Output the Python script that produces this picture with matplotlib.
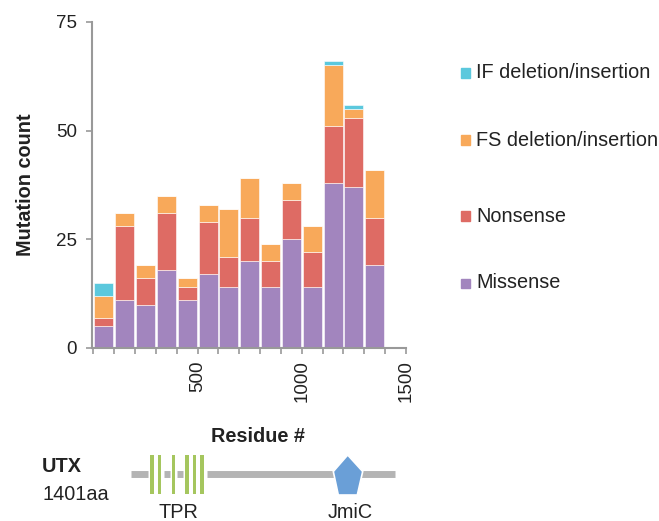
import matplotlib
matplotlib.use("Agg")
import matplotlib.pyplot as plt
from matplotlib.patches import Rectangle, Polygon
import numpy as np

plt.rcParams['font.family'] = ['Liberation Sans', 'DejaVu Sans']

bin_starts = [0, 100, 200, 300, 400, 500, 600, 700, 800, 900, 1000, 1100, 1200, 1300]
missense = [5, 11, 10, 18, 11, 17, 14, 20, 14, 25, 14, 38, 37, 19]
nonsense = [2, 17, 6, 13, 3, 12, 7, 10, 6, 9, 8, 13, 16, 11]
fs_indel = [5, 3, 3, 4, 2, 4, 11, 9, 4, 4, 6, 14, 2, 11]
if_indel = [3, 0, 0, 0, 0, 0, 0, 0, 0, 0, 0, 1, 1, 0]

series_names = ["Missense", "Nonsense", "FS deletion/insertion", "IF deletion/insertion"]
series_colors = ["#A285BE", "#DE6B64", "#F8A95A", "#5BC8DD"]
yticks = [0, 25, 50, 75]
xtick_labels = [500, 1000, 1500]

W, H = 659, 521
fig = plt.figure(figsize=(W / 100, H / 100), dpi=100)

def fx(px):
    return px / W

def fy(py):
    return 1 - py / H

BIG = 14.3
TICK = 13.5
txt_col = "#222222"

ax = fig.add_axes([fx(92), fy(348), fx(406) - fx(92), fy(22) - fy(348)])
ax.set_xlim(-7, 1500)
ax.set_ylim(0, 75)

axis_gray = "#999999"
bottom = np.zeros(len(bin_starts))
centers = np.array(bin_starts) + 50
for vals, col in zip([missense, nonsense, fs_indel, if_indel], series_colors):
    v = np.array(vals, dtype=float)
    ax.bar(centers, v, width=91, bottom=bottom, color=col, edgecolor="white",
           linewidth=0.4)
    bottom += v

for s in ["top", "right"]:
    ax.spines[s].set_visible(False)
for s in ["left", "bottom"]:
    ax.spines[s].set_color(axis_gray)
    ax.spines[s].set_linewidth(1.5)

ax.set_yticks(yticks)
ax.set_yticklabels([str(t) for t in yticks], fontsize=TICK, color=txt_col)
ax.set_xticks(np.arange(0, 1501, 100))
ax.set_xticklabels([str(t) if t in xtick_labels else "" for t in np.arange(0, 1501, 100)],
                   rotation=90, fontsize=TICK, color=txt_col)
ax.tick_params(axis="both", color=axis_gray, width=1.2, length=4)
ax.tick_params(axis="y", pad=7)
ax.tick_params(axis="x", pad=5)
ax.set_ylabel("Mutation count", fontsize=BIG, fontweight="bold", labelpad=15,
              color=txt_col)

# legend (manual)
legend_y = [73, 140, 216, 283]
for name, col, ly in zip(series_names[::-1], series_colors[::-1], legend_y):
    fig.patches.append(Rectangle((fx(460.5), fy(ly + 4.5)), fx(9), 9 / H,
                                 transform=fig.transFigure, color=col))
    fig.text(fx(476), fy(ly), name, fontsize=BIG, va="center", ha="left",
             color=txt_col)

fig.text(fx(258), fy(436), "Residue #", fontsize=BIG, fontweight="bold",
         ha="center", va="center", color=txt_col)

# protein domain diagram
dax = fig.add_axes([0, 0, 1, 1], facecolor="none")
dax.set_xlim(0, W)
dax.set_ylim(H, 0)
dax.axis("off")

line_y = 474
gray = "#B4B4B4"
for x0, x1 in [(131, 148), (164, 170), (177, 183), (207, 395)]:
    dax.plot([x0, x1], [line_y, line_y], color=gray, lw=5, solid_capstyle="butt",
             zorder=1)
green = "#A5C65E"
for gx in [152, 159.5, 173.5, 187, 194.5, 202]:
    dax.add_patch(Rectangle((gx - 1.6, 455), 3.2, 39, color=green, lw=0, zorder=3))
pent = [(347.7, 455), (362.7, 471.5), (357.3, 495), (338.3, 495), (333.3, 471.5)]
dax.add_patch(Polygon(pent, closed=True, facecolor="#6A9FD7", edgecolor="white",
                      lw=1.2, zorder=3))

fig.text(fx(42), fy(466), "UTX", fontsize=BIG, fontweight="bold", ha="left",
         va="center", color=txt_col)
fig.text(fx(42), fy(494), "1401aa", fontsize=BIG, ha="left", va="center",
         color=txt_col)
fig.text(fx(178), fy(513), "TPR", fontsize=BIG, ha="center", va="center",
         color=txt_col)
fig.text(fx(350), fy(513), "JmiC", fontsize=BIG, ha="center", va="center",
         color=txt_col)

fig.savefig("out.png", dpi=100)
